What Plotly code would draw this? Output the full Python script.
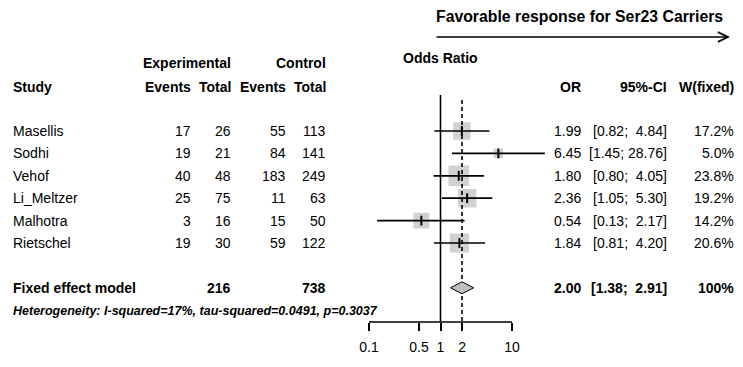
import plotly.graph_objects as go

# ---------------- data ----------------
studies = ["Masellis", "Sodhi", "Vehof", "Li_Meltzer", "Malhotra", "Rietschel"]
exp_events = [17, 19, 40, 25, 3, 19]
exp_total = [26, 21, 48, 75, 16, 30]
ctrl_events = [55, 84, 183, 11, 15, 59]
ctrl_total = [113, 141, 249, 63, 50, 122]
odds_ratio = [1.99, 6.45, 1.80, 2.36, 0.54, 1.84]
ci_lower = [0.82, 1.45, 0.80, 1.05, 0.13, 0.81]
ci_upper = [4.84, 28.76, 4.05, 5.30, 2.17, 4.20]
weight_fixed = [17.2, 5.0, 23.8, 19.2, 14.2, 20.6]

fixed_label = "Fixed effect model"
fixed_exp_total = 216
fixed_ctrl_total = 738
fixed_or = 2.00
fixed_lower = 1.38
fixed_upper = 2.91
fixed_weight = "100%"
heterogeneity = "Heterogeneity: I-squared=17%, tau-squared=0.0491, p=0.3037"
title_text = "Favorable response for Ser23 Carriers"
tick_values = [0.1, 0.5, 1, 2, 10]
tick_labels = ["0.1", "0.5", "1", "2", "10"]

# ---------------- layout helpers ----------------
WIN_W, WIN_H = 743, 367
OFF = 8  # page body margin
W, H = WIN_W - OFF, WIN_H - OFF
FONT = "Liberation Sans, Arial, sans-serif"
ROW0_PX, ROW_H = 131.0, 22.4


def row_of(py):
    return 1 + (py - ROW0_PX) / ROW_H


PX_LEFT, PX_RIGHT = 369.0, 512.0  # window pixel of 0.1 and 10
PX_DEC = (PX_RIGHT - PX_LEFT) / 2.0
x_range = [-1 - (PX_LEFT - OFF) / PX_DEC, 1 + (WIN_W - PX_RIGHT) / PX_DEC]
AXIS_PX = 322.0
axis_row = row_of(AXIS_PX)

rows = list(range(1, len(studies) + 1))
fixed_row = len(studies) + 2
GRAY = "#BEBEBE"

fig = go.Figure()

# squares
fig.add_trace(go.Scatter(
    x=odds_ratio, y=rows, mode="markers",
    marker=dict(symbol="square", color=GRAY,
                size=[4.2 * w ** 0.5 for w in weight_fixed], line=dict(width=0)),
    hoverinfo="skip", showlegend=False))

# reference line at 1
fig.add_trace(go.Scatter(x=[1, 1], y=[row_of(95), axis_row], mode="lines",
                         line=dict(color="black", width=1.6),
                         hoverinfo="skip", showlegend=False))
# dashed line at fixed estimate
fig.add_trace(go.Scatter(x=[fixed_or, fixed_or], y=[row_of(100), axis_row], mode="lines",
                         line=dict(color="black", width=1.6, dash="4px,3px"),
                         hoverinfo="skip", showlegend=False))

# CI lines
for r, lo, hi in zip(rows, ci_lower, ci_upper):
    fig.add_trace(go.Scatter(x=[lo, hi], y=[r, r], mode="lines",
                             line=dict(color="black", width=1.7),
                             hoverinfo="skip", showlegend=False))

# estimate ticks
fig.add_trace(go.Scatter(
    x=odds_ratio, y=rows, mode="markers",
    marker=dict(symbol="line-ns", size=7, line=dict(color="black", width=2)),
    hoverinfo="skip", showlegend=False))

# diamond
dh = 6.0 / ROW_H
fig.add_trace(go.Scatter(
    x=[fixed_lower, fixed_or, fixed_upper, fixed_or, fixed_lower],
    y=[fixed_row, fixed_row - dh, fixed_row, fixed_row + dh, fixed_row],
    mode="lines", fill="toself", fillcolor=GRAY,
    line=dict(color="black", width=1),
    hoverinfo="skip", showlegend=False))

# axis line
fig.add_trace(go.Scatter(x=[tick_values[0], tick_values[-1]], y=[axis_row, axis_row],
                         mode="lines", line=dict(color="black", width=1.6),
                         hoverinfo="skip", showlegend=False))

annotations = []


def txt(x_px, row, text, anchor="left", size=14, bold=False, italic=False):
    t = str(text)
    if italic:
        t = "<i>" + t + "</i>"
    if bold:
        t = "<b>" + t + "</b>"
    annotations.append(dict(
        x=(x_px - OFF) / W, xref="paper", y=row, yref="y", text=t, showarrow=False,
        xanchor=anchor, yanchor="middle", borderpad=0,
        font=dict(family=FONT, size=size, color="black")))


# headers
hdr1 = row_of(63)
hdr2 = row_of(87)
txt(232, hdr1, "Experimental", "right", bold=True)
txt(327, hdr1, "Control", "right", bold=True)
txt(440, row_of(58), "Odds Ratio", "center", bold=True)
txt(12, hdr2, "Study", "left", bold=True)
txt(192, hdr2, "Events", "right", bold=True)
txt(232, hdr2, "Total", "right", bold=True)
txt(287, hdr2, "Events", "right", bold=True)
txt(327, hdr2, "Total", "right", bold=True)
txt(582, hdr2, "OR", "right", bold=True)
txt(668, hdr2, "95%-CI", "right", bold=True)
txt(735, hdr2, "W(fixed)", "right", bold=True)

NB = "\u00a0"


def ci_fmt(lo, hi):
    hs = f"{hi:.2f}"
    pad = NB * (5 - len(hs))
    return f"[{lo:.2f}; {pad}{hs}]"


for i, r in enumerate(rows):
    txt(12, r, studies[i], "left")
    txt(192, r, exp_events[i], "right")
    txt(232, r, exp_total[i], "right")
    txt(287, r, ctrl_events[i], "right")
    txt(327, r, ctrl_total[i], "right")
    txt(582, r, f"{odds_ratio[i]:.2f}", "right")
    txt(668, r, ci_fmt(ci_lower[i], ci_upper[i]), "right")
    txt(735, r, f"{weight_fixed[i]:.1f}%", "right")

txt(12, fixed_row, fixed_label, "left", bold=True)
txt(232, fixed_row, fixed_exp_total, "right", bold=True)
txt(327, fixed_row, fixed_ctrl_total, "right", bold=True)
txt(582, fixed_row, f"{fixed_or:.2f}", "right", bold=True)
txt(668, fixed_row, ci_fmt(fixed_lower, fixed_upper), "right", bold=True)
txt(735, fixed_row, fixed_weight, "right", bold=True)

txt(12, row_of(311), heterogeneity, "left", size=12.5, bold=True, italic=True)

# title and arrow
txt(435, row_of(16), title_text, "left", size=15.8, bold=True)
annotations.append(dict(
    x=(730 - OFF) / W, xref="paper", y=row_of(37), yref="y", text="",
    showarrow=True, ax=-(730 - 435), ay=0, axref="pixel", ayref="pixel",
    arrowhead=5, arrowsize=1.3, arrowwidth=1.5, arrowcolor="black"))

fig.update_layout(
    width=W, height=H,
    margin=dict(l=0, r=0, t=0, b=0),
    paper_bgcolor="white", plot_bgcolor="white",
    showlegend=False,
    annotations=annotations,
    xaxis=dict(type="log", range=x_range, domain=[0, 1],
               anchor="free", position=1 - (AXIS_PX - OFF) / H,
               showline=False, showgrid=False, zeroline=False,
               ticks="outside", ticklen=8, tickwidth=1.6, tickcolor="black",
               tickvals=tick_values, ticktext=tick_labels,
               tickfont=dict(family=FONT, size=14, color="black"),
               ticklabelstandoff=4, automargin=False, fixedrange=True),
    yaxis=dict(range=[row_of(WIN_H), row_of(OFF)], domain=[0, 1], visible=False,
               showgrid=False, zeroline=False, fixedrange=True),
)

fig.write_html("out.html")
